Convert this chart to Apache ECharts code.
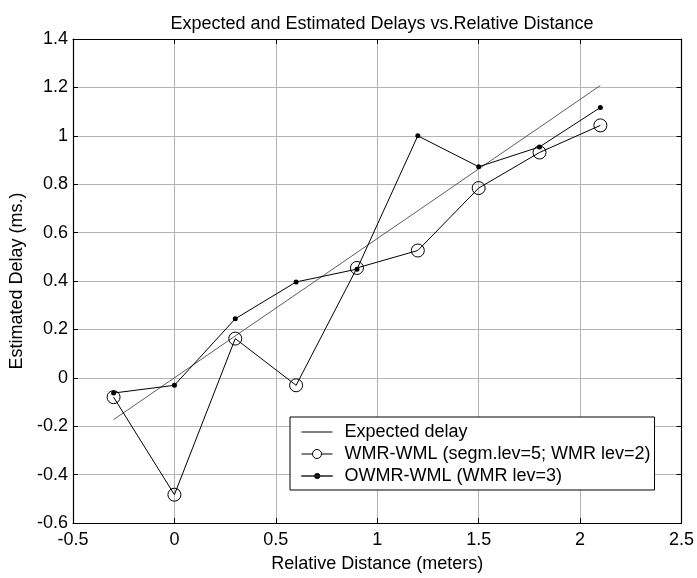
<!DOCTYPE html>
<html>
<head>
<meta charset="utf-8">
<script src="https://cdn.jsdelivr.net/npm/echarts@6/dist/echarts.min.js"></script>
<style>
  html, body { margin: 0; padding: 0; background: #fff; }
  #chart { width: 697px; height: 578px; }
</style>
</head>
<body>
<div id="chart"></div>
<script>
// Relative distance (m) at which each delay was measured
const distances = [-0.3, 0, 0.3, 0.6, 0.9, 1.2, 1.5, 1.8, 2.1];
// Theoretical delay (ms)
const expectedDelay = [-0.173, 0, 0.173, 0.345, 0.518, 0.69, 0.863, 1.035, 1.208];
// WMR-WML estimate (segm.lev=5; WMR lev=2)
const wmrWml = [-0.08, -0.483, 0.162, -0.031, 0.454, 0.526, 0.784, 0.931, 1.043];
// OWMR-WML estimate (WMR lev=3)
const owmrWml = [-0.063, -0.031, 0.244, 0.396, 0.449, 1.0, 0.872, 0.954, 1.117];

const seriesNames = ['Expected delay', 'WMR-WML (segm.lev=5; WMR lev=2)', 'OWMR-WML (WMR lev=3)'];

const xTicks = { min: -0.5, max: 2.5, interval: 0.5 };
const yTicks = { min: -0.6, max: 1.4, interval: 0.2 };

const pair = (ys) => distances.map((x, i) => [x, ys[i]]);
const FONT = '"Liberation Sans", Arial, sans-serif';
const FS = 18;

// Legend glyphs: plain line, line with open circle, line with dot
const ICON_LINE = 'path://M0 0 L31 0 L31 1 L0 1 Z';
const ICON_CIRCLE = 'path://M0 4.5 L11 4.5 M20 4.5 L31 4.5 M11 4.5 A4.5 4.5 0 1 0 20 4.5 A4.5 4.5 0 1 0 11 4.5 Z';
const ICON_DOT = 'path://M0 2.5 L31 2.5 L31 3 L0 3 Z M13 2.75 A2.75 2.75 0 1 0 18.5 2.75 A2.75 2.75 0 1 0 13 2.75 Z';

const chart = echarts.init(document.getElementById('chart'), null, { renderer: 'canvas' });

const frameAxis = (extra) => Object.assign({
  type: 'value',
  axisLine: { show: true, onZero: false, lineStyle: { color: '#000', width: 1.2 } },
  axisTick: { show: true, inside: true, length: 5, lineStyle: { color: '#000', width: 1 } },
  axisLabel: { show: false },
  splitLine: { show: false }
}, extra);

chart.setOption({
  animation: false,
  backgroundColor: '#fff',
  title: {
    text: 'Expected and Estimated Delays vs.Relative Distance',
    left: 377, top: 10, textAlign: 'center',
    textStyle: { fontFamily: FONT, fontSize: FS, fontWeight: 'normal', color: '#000' }
  },
  grid: { left: 73, right: 12, top: 39, bottom: 55, containLabel: false },
  legend: {
    orient: 'vertical',
    left: 290, top: 417,
    padding: [6, 4, 5, 11],
    itemGap: 4, itemWidth: 31, itemHeight: 14,
    backgroundColor: '#fff',
    borderColor: '#000', borderWidth: 1,
    textStyle: { fontFamily: FONT, fontSize: FS, color: '#000', padding: [0, 0, 0, 7] },
    data: [
      { name: seriesNames[0], icon: ICON_LINE,
        itemStyle: { color: '#000', borderWidth: 0 } },
      { name: seriesNames[1], icon: ICON_CIRCLE,
        itemStyle: { color: 'rgba(255,255,255,0)', borderColor: '#000', borderWidth: 1 } },
      { name: seriesNames[2], icon: ICON_DOT,
        itemStyle: { color: '#000', borderColor: '#000', borderWidth: 0.6 } }
    ]
  },
  xAxis: [
    frameAxis({
      position: 'bottom', min: xTicks.min, max: xTicks.max, interval: xTicks.interval,
      name: 'Relative Distance (meters)', nameLocation: 'middle', nameGap: 32,
      nameTextStyle: { fontFamily: FONT, fontSize: FS, color: '#000' },
      axisLabel: { show: true, margin: 8, fontFamily: FONT, fontSize: FS, color: '#000' },
      splitLine: { show: true, lineStyle: { color: '#b4b4b4', width: 1 } }
    }),
    frameAxis({ position: 'top', min: xTicks.min, max: xTicks.max, interval: xTicks.interval })
  ],
  yAxis: [
    frameAxis({
      position: 'left', min: yTicks.min, max: yTicks.max, interval: yTicks.interval,
      name: 'Estimated Delay (ms.)', nameLocation: 'middle', nameGap: 40, nameRotate: 90,
      nameTextStyle: { fontFamily: FONT, fontSize: FS, color: '#000' },
      axisLabel: { show: true, margin: 5, fontFamily: FONT, fontSize: FS, color: '#000' },
      splitLine: { show: true, lineStyle: { color: '#b4b4b4', width: 1 } }
    }),
    frameAxis({ position: 'right', min: yTicks.min, max: yTicks.max, interval: yTicks.interval })
  ],
  series: [
    {
      name: seriesNames[0], type: 'line', data: pair(expectedDelay),
      symbol: 'none', lineStyle: { color: '#333', width: 0.8 },
      itemStyle: { color: '#333' }
    },
    {
      name: seriesNames[1], type: 'line', data: pair(wmrWml),
      symbol: 'circle', symbolSize: 13,
      lineStyle: { color: '#000', width: 1 },
      itemStyle: { color: 'rgba(255,255,255,0)', borderColor: '#000', borderWidth: 1 }
    },
    {
      name: seriesNames[2], type: 'line', data: pair(owmrWml),
      symbol: 'circle', symbolSize: 5,
      lineStyle: { color: '#000', width: 1 },
      itemStyle: { color: '#000', borderColor: '#000', borderWidth: 0 }
    }
  ]
});
</script>
</body>
</html>
